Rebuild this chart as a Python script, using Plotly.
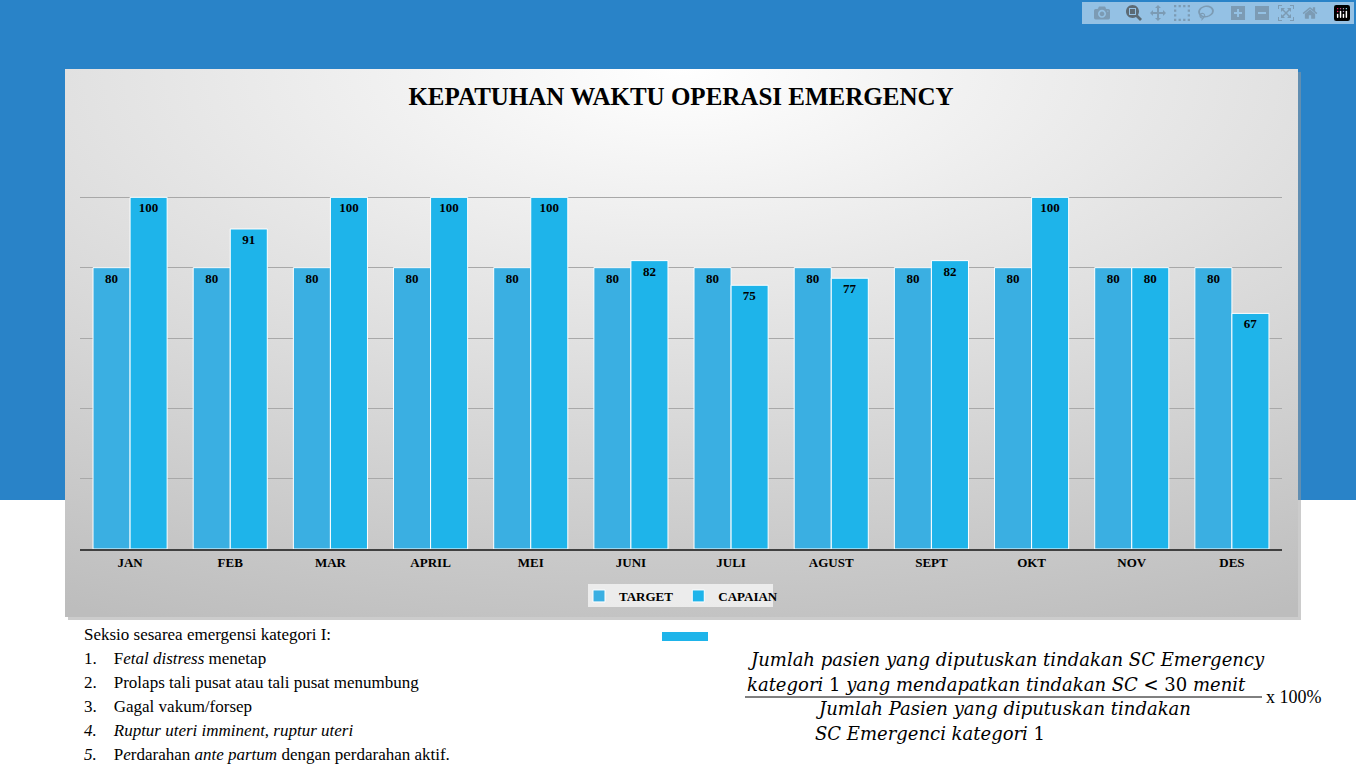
import plotly.graph_objects as go
import base64

months = ["JAN","FEB","MAR","APRIL","MEI","JUNI","JULI","AGUST","SEPT","OKT","NOV","DES"]
target = [80,80,80,80,80,80,80,80,80,80,80,80]
capaian = [100,91,100,100,100,82,75,77,82,100,80,67]

W, H = 1356, 771
def px(x): return x / W
def py(y): return 1 - y / H

F = "Liberation Serif"
fig = go.Figure()
fig.add_bar(name="<b>TARGET</b>", x=months, y=target, marker=dict(color="#3AAFE2", line=dict(color="white", width=1)),
            text=target, texttemplate="<b>%{text}</b>", textposition="inside", insidetextanchor="end",
            textfont=dict(family=F, size=13, color="black"))
fig.add_bar(name="<b>CAPAIAN</b>", x=months, y=capaian, marker=dict(color="#1EB4EA", line=dict(color="white", width=1)),
            text=capaian, texttemplate="<b>%{text}</b>", textposition="inside", insidetextanchor="end",
            textfont=dict(family=F, size=13, color="black"))

svg = ('<svg xmlns="http://www.w3.org/2000/svg" width="1356" height="771">'
       '<defs><radialGradient id="g" cx="50%" cy="0%" r="110%">'
       '<stop offset="0" stop-color="#FFFFFF"/><stop offset="1" stop-color="#BDBDBD"/></radialGradient></defs>'
       '<rect width="1356" height="771" fill="white"/>'
       '<rect width="1356" height="500" fill="#2983C8"/>'
       '<rect x="68" y="72" width="1233" height="548" fill="#9A9A9A" opacity="0.5"/>'
       '<rect x="65" y="69" width="1233" height="548" fill="url(#g)"/>'
       '<rect x="588" y="584" width="185" height="23" fill="#F0F0F0" opacity="0.9"/>'
       '</svg>')
src = "data:image/svg+xml;base64," + base64.b64encode(svg.encode()).decode()

shapes = [
    dict(type="rect", xref="paper", yref="paper", x0=px(662), x1=px(708), y0=py(641), y1=py(632),
         fillcolor="#1EB4EA", line_width=0),
    dict(type="line", xref="paper", yref="paper", x0=px(745), x1=px(1262), y0=py(697), y1=py(697),
         line=dict(color="black", width=1)),
]

ann = []
def txt(x, y, s, size=17, fam=F):
    ann.append(dict(x=px(x), y=py(y), xref="paper", yref="paper", text=s, showarrow=False,
                    xanchor="left", yanchor="middle", font=dict(family=fam, size=size, color="black")))
txt(82, 634, "Seksio sesarea emergensi kategori I:")
txt(82, 658, "1.&nbsp;&nbsp;&nbsp;&nbsp;F<i>etal distress</i> menetap")
txt(82, 682, "2.&nbsp;&nbsp;&nbsp;&nbsp;Prolaps tali pusat atau tali pusat menumbung")
txt(82, 706, "3.&nbsp;&nbsp;&nbsp;&nbsp;Gagal vakum/forsep")
txt(82, 730, "<i>4.&nbsp;&nbsp;&nbsp;&nbsp;Ruptur uteri imminent</i>, <i>ruptur uteri</i>")
txt(82, 754, "<i>5.</i>&nbsp;&nbsp;&nbsp;&nbsp;P<i>e</i>rdarahan <i>ante partum</i> dengan perdarahan aktif.")
D = "DejaVu Serif"
txt(745, 659, "<i>Jumlah pasien yang diputuskan tindakan SC Emergency</i>", 18, D)
txt(745, 684, "<i>kategori</i> 1 <i>yang mendapatkan tindakan SC</i> &lt; 30 <i>menit</i>", 18, D)
txt(813, 708, "<i>Jumlah Pasien yang diputuskan tindakan</i>", 18, D)
txt(813, 733, "<i>SC Emergenci kategori</i> 1", 18, D)
txt(1264, 697, "x 100%", 18)

fig.update_layout(
    width=W, height=H, margin=dict(l=0, r=0, t=0, b=0),
    paper_bgcolor="white", plot_bgcolor="rgba(0,0,0,0)",
    barmode="group", bargap=0.26, bargroupgap=0,
    title=dict(text="<b>KEPATUHAN WAKTU OPERASI EMERGENCY</b>", x=px(681), y=py(96),
               xanchor="center", yanchor="middle", font=dict(family=F, size=25, color="black")),
    xaxis=dict(domain=[px(80), px(1282)], tickfont=dict(family=F, size=13, color="black"),
               tickprefix="<b>", ticksuffix="</b>", showline=True, linecolor="#404040", linewidth=2,
               ticks=""),
    yaxis=dict(domain=[py(549), py(127)], range=[0, 120], dtick=20, showticklabels=False,
               gridcolor="#A8A8A8", zeroline=False),
    legend=dict(orientation="h", x=px(681), y=py(596), xanchor="center", yanchor="middle",
                font=dict(family=F, size=13, color="black"), bgcolor="rgba(0,0,0,0)"),
    images=[dict(source=src, xref="paper", yref="paper", x=0, y=1, sizex=1, sizey=1,
                 xanchor="left", yanchor="top", sizing="stretch", layer="below")],
    shapes=shapes, annotations=ann, showlegend=True, uniformtext=dict(mode="show", minsize=13),
)
fig.write_html("out.html")
with open("out.html", encoding="utf-8") as f:
    h = f.read()
h = h.replace("<head>", "<head><style>html,body{margin:0;padding:0;overflow:hidden}</style>", 1)
with open("out.html", "w", encoding="utf-8") as f:
    f.write(h)
